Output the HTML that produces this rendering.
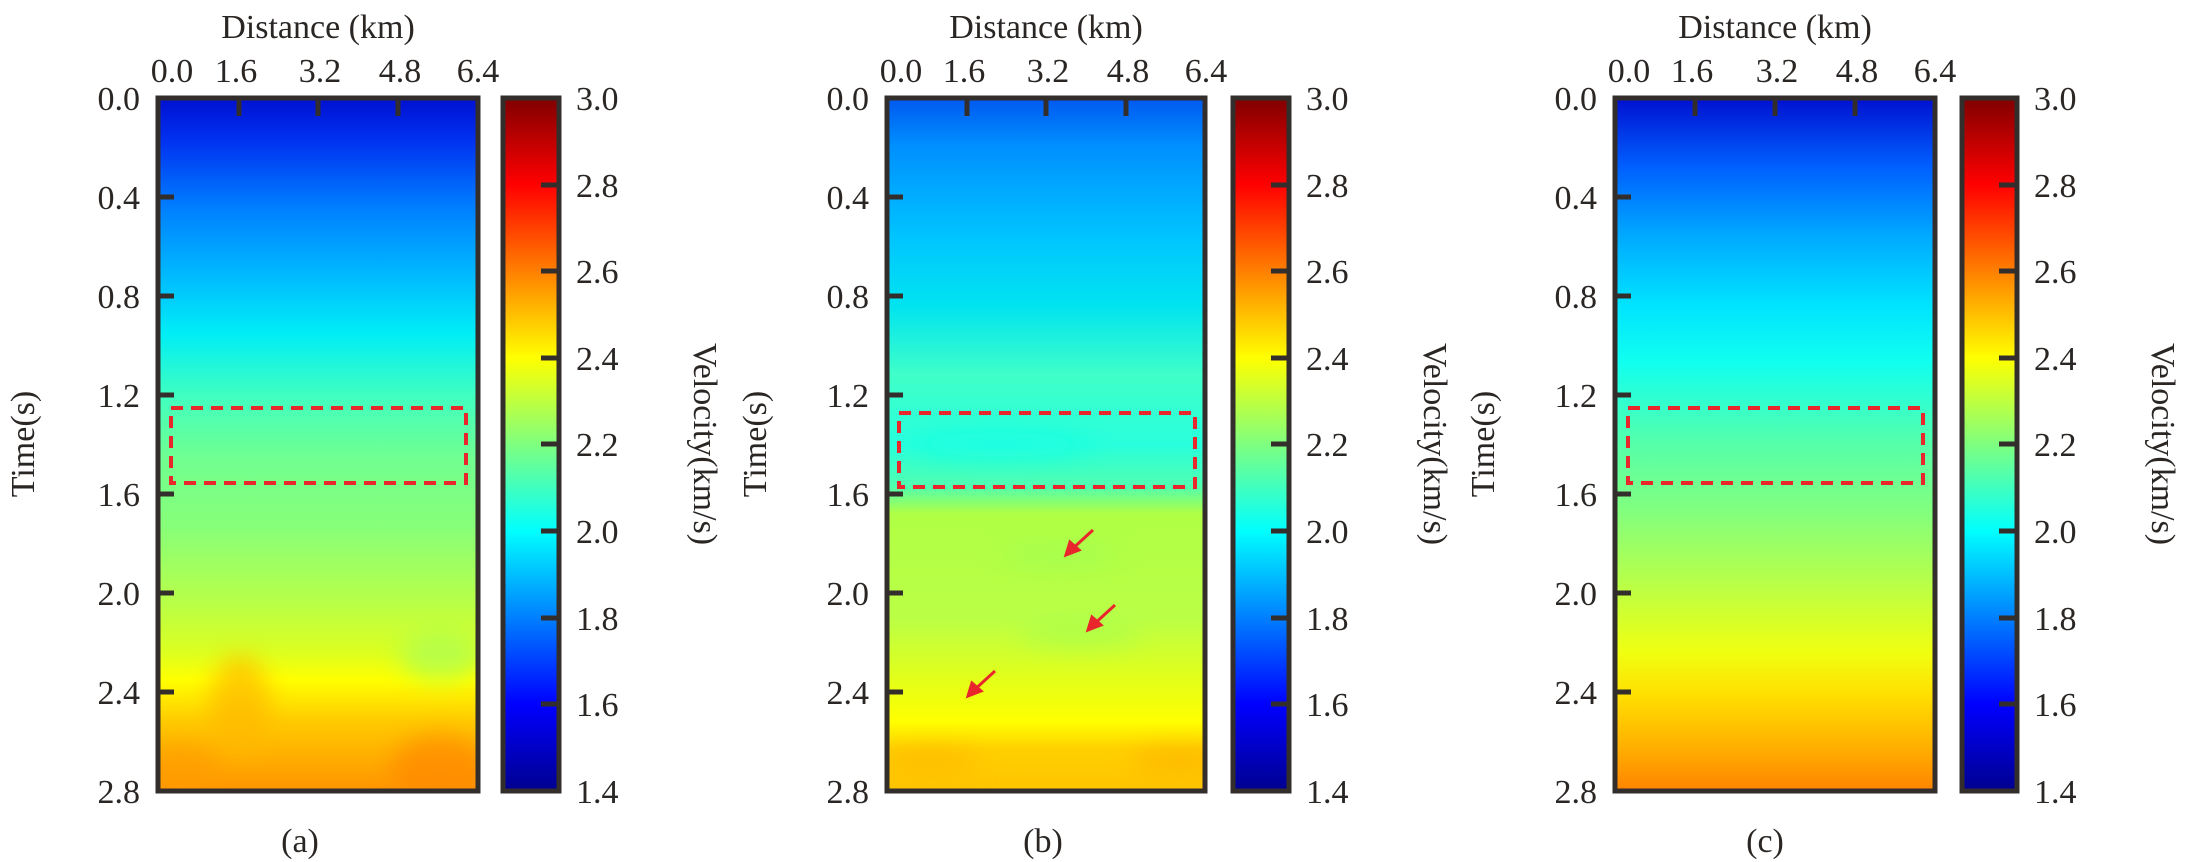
<!DOCTYPE html>
<html><head><meta charset="utf-8"><style>
html,body{margin:0;padding:0;background:#fff;}
svg{display:block;}
text{font-family:"Liberation Serif",serif;fill:#2a2624;}
</style></head><body>
<svg width="2188" height="862" viewBox="0 0 2188 862" xmlns="http://www.w3.org/2000/svg">
<defs>
<linearGradient id="jet" x1="0" y1="1" x2="0" y2="0">
<stop offset="0" stop-color="#00008f"/><stop offset="0.125" stop-color="#0000ff"/>
<stop offset="0.375" stop-color="#00ffff"/><stop offset="0.5" stop-color="#7fff7f"/>
<stop offset="0.625" stop-color="#ffff00"/><stop offset="0.875" stop-color="#ff0000"/>
<stop offset="1" stop-color="#800000"/></linearGradient>
<linearGradient id="ga" x1="0" y1="0" x2="0" y2="1">
<stop offset="0" stop-color="#0010d0"/><stop offset="0.06" stop-color="#0030f0"/>
<stop offset="0.16" stop-color="#0080ff"/><stop offset="0.26" stop-color="#00bcff"/>
<stop offset="0.34" stop-color="#00eef6"/><stop offset="0.43" stop-color="#40ffc0"/>
<stop offset="0.52" stop-color="#70ff90"/><stop offset="0.62" stop-color="#88ff78"/>
<stop offset="0.72" stop-color="#b4ff4c"/><stop offset="0.80" stop-color="#dcff20"/>
<stop offset="0.84" stop-color="#ffff00"/><stop offset="0.9" stop-color="#ffca00"/>
<stop offset="1" stop-color="#ff9400"/></linearGradient>
<linearGradient id="gb" x1="0" y1="0" x2="0" y2="1">
<stop offset="0" stop-color="#0058f0"/><stop offset="0.07" stop-color="#0090ff"/>
<stop offset="0.2" stop-color="#00c4ff"/><stop offset="0.3" stop-color="#00e4f0"/>
<stop offset="0.4" stop-color="#40ffc8"/><stop offset="0.5" stop-color="#28ffdc"/>
<stop offset="0.56" stop-color="#50ffb0"/><stop offset="0.6" stop-color="#b0ff44"/>
<stop offset="0.75" stop-color="#baff46"/><stop offset="0.85" stop-color="#e8ff14"/>
<stop offset="0.9" stop-color="#ffff00"/><stop offset="0.94" stop-color="#ffd000"/>
<stop offset="1" stop-color="#ffc400"/></linearGradient>
<linearGradient id="gc" x1="0" y1="0" x2="0" y2="1">
<stop offset="0" stop-color="#0010d0"/><stop offset="0.1" stop-color="#0060ff"/>
<stop offset="0.2" stop-color="#00aaff"/><stop offset="0.3" stop-color="#00e4ff"/>
<stop offset="0.38" stop-color="#10fff0"/><stop offset="0.5" stop-color="#56ffaa"/>
<stop offset="0.6" stop-color="#84ff7c"/><stop offset="0.7" stop-color="#b8ff48"/>
<stop offset="0.8" stop-color="#f0ff10"/><stop offset="0.86" stop-color="#ffe000"/>
<stop offset="0.93" stop-color="#ffb400"/><stop offset="1" stop-color="#ff8400"/></linearGradient>
<filter id="bl"><feGaussianBlur stdDeviation="12"/></filter>
<clipPath id="ca"><rect x="158" y="98" width="320" height="693"/></clipPath>
<clipPath id="cb"><rect x="887" y="98" width="318" height="693"/></clipPath>
</defs>

<rect x="158" y="98" width="320" height="693" fill="url(#ga)"/>
<g clip-path="url(#ca)" filter="url(#bl)" opacity="0.7">
<ellipse cx="240" cy="705" rx="30" ry="50" fill="#ffb800"/>
<ellipse cx="440" cy="770" rx="50" ry="35" fill="#ff8800"/>
<ellipse cx="440" cy="655" rx="40" ry="25" fill="#a8ff58"/>
<ellipse cx="180" cy="770" rx="40" ry="25" fill="#ff9c00"/>
</g>
<rect x="158" y="98" width="320" height="693" fill="none" stroke="#332e2c" stroke-width="5"/>
<rect x="171" y="408" width="295" height="75" fill="none" stroke="#e8262c" stroke-width="4" stroke-dasharray="12,8"/>

<rect x="887" y="98" width="318" height="693" fill="url(#gb)"/>
<g clip-path="url(#cb)" filter="url(#bl)" opacity="0.6">
<ellipse cx="1000" cy="445" rx="90" ry="12" fill="#10ffe8"/>
<ellipse cx="1060" cy="555" rx="60" ry="10" fill="#98ff58"/>
<ellipse cx="1080" cy="635" rx="60" ry="10" fill="#98ff58"/>
<ellipse cx="930" cy="760" rx="50" ry="12" fill="#ffb400"/>
<ellipse cx="1180" cy="760" rx="50" ry="12" fill="#ffac00"/>
</g>
<rect x="887" y="98" width="318" height="693" fill="none" stroke="#332e2c" stroke-width="5"/>
<rect x="899" y="413" width="296" height="74" fill="none" stroke="#e8262c" stroke-width="4" stroke-dasharray="12,8"/>
<g stroke="#e8262c" stroke-width="3" fill="#e8262c">
<line x1="1093" y1="530" x2="1070" y2="551"/><polygon points="1066,555 1070,542 1079,550"/>
<line x1="1115" y1="605" x2="1092" y2="626"/><polygon points="1088,630 1092,617 1101,625"/>
<line x1="995" y1="671" x2="972" y2="692"/><polygon points="968,696 972,683 981,691"/>
</g>

<rect x="1615" y="98" width="320" height="693" fill="url(#gc)"/>
<rect x="1615" y="98" width="320" height="693" fill="none" stroke="#332e2c" stroke-width="5"/>
<rect x="1628" y="408" width="295" height="75" fill="none" stroke="#e8262c" stroke-width="4" stroke-dasharray="12,8"/>

<g stroke="#332e2c" stroke-width="5">
<rect x="503" y="98" width="56" height="693" fill="url(#jet)"/>
<rect x="1233" y="98" width="56" height="693" fill="url(#jet)"/>
<rect x="1962" y="98" width="55" height="693" fill="url(#jet)"/>
</g>

<g stroke="#332e2c" stroke-width="5">
<path d="M239 98v18M318 98v18M398 98v18"/>
<path d="M158 197h16M158 296h16M158 395h16M158 494h16M158 593h16M158 692h16"/>
<path d="M967 98v18M1046 98v18M1126 98v18"/>
<path d="M887 197h16M887 296h16M887 395h16M887 494h16M887 593h16M887 692h16"/>
<path d="M1695 98v18M1775 98v18M1855 98v18"/>
<path d="M1615 197h16M1615 296h16M1615 395h16M1615 494h16M1615 593h16M1615 692h16"/>
<path d="M559 185h-18M559 271h-18M559 358h-18M559 444h-18M559 531h-18M559 618h-18M559 704h-18"/>
<path d="M1289 185h-18M1289 271h-18M1289 358h-18M1289 444h-18M1289 531h-18M1289 618h-18M1289 704h-18"/>
<path d="M2017 185h-18M2017 271h-18M2017 358h-18M2017 444h-18M2017 531h-18M2017 618h-18M2017 704h-18"/>
</g>

<g font-size="34">
<text x="318" y="38" text-anchor="middle">Distance (km)</text>
<g text-anchor="middle"><text x="172" y="82">0.0</text><text x="236" y="82">1.6</text><text x="320" y="82">3.2</text><text x="400" y="82">4.8</text><text x="478" y="82">6.4</text></g>
<g text-anchor="end"><text x="140" y="110">0.0</text><text x="140" y="209">0.4</text><text x="140" y="308">0.8</text><text x="140" y="407">1.2</text><text x="140" y="506">1.6</text><text x="140" y="605">2.0</text><text x="140" y="704">2.4</text><text x="140" y="803">2.8</text></g>
<g><text x="576" y="110">3.0</text><text x="576" y="197">2.8</text><text x="576" y="283">2.6</text><text x="576" y="370">2.4</text><text x="576" y="456">2.2</text><text x="576" y="543">2.0</text><text x="576" y="630">1.8</text><text x="576" y="716">1.6</text><text x="576" y="803">1.4</text></g>
<text transform="translate(34,444) rotate(-90)" text-anchor="middle">Time(s)</text>
<text transform="translate(694,444) rotate(90)" text-anchor="middle">Velocity(km/s)</text>
<text x="300" y="852" text-anchor="middle">(a)</text>

<text x="1046" y="38" text-anchor="middle">Distance (km)</text>
<g text-anchor="middle"><text x="901" y="82">0.0</text><text x="964" y="82">1.6</text><text x="1048" y="82">3.2</text><text x="1128" y="82">4.8</text><text x="1206" y="82">6.4</text></g>
<g text-anchor="end"><text x="869" y="110">0.0</text><text x="869" y="209">0.4</text><text x="869" y="308">0.8</text><text x="869" y="407">1.2</text><text x="869" y="506">1.6</text><text x="869" y="605">2.0</text><text x="869" y="704">2.4</text><text x="869" y="803">2.8</text></g>
<g><text x="1306" y="110">3.0</text><text x="1306" y="197">2.8</text><text x="1306" y="283">2.6</text><text x="1306" y="370">2.4</text><text x="1306" y="456">2.2</text><text x="1306" y="543">2.0</text><text x="1306" y="630">1.8</text><text x="1306" y="716">1.6</text><text x="1306" y="803">1.4</text></g>
<text transform="translate(766,444) rotate(-90)" text-anchor="middle">Time(s)</text>
<text transform="translate(1424,444) rotate(90)" text-anchor="middle">Velocity(km/s)</text>
<text x="1043" y="852" text-anchor="middle">(b)</text>

<text x="1775" y="38" text-anchor="middle">Distance (km)</text>
<g text-anchor="middle"><text x="1629" y="82">0.0</text><text x="1692" y="82">1.6</text><text x="1777" y="82">3.2</text><text x="1857" y="82">4.8</text><text x="1935" y="82">6.4</text></g>
<g text-anchor="end"><text x="1597" y="110">0.0</text><text x="1597" y="209">0.4</text><text x="1597" y="308">0.8</text><text x="1597" y="407">1.2</text><text x="1597" y="506">1.6</text><text x="1597" y="605">2.0</text><text x="1597" y="704">2.4</text><text x="1597" y="803">2.8</text></g>
<g><text x="2034" y="110">3.0</text><text x="2034" y="197">2.8</text><text x="2034" y="283">2.6</text><text x="2034" y="370">2.4</text><text x="2034" y="456">2.2</text><text x="2034" y="543">2.0</text><text x="2034" y="630">1.8</text><text x="2034" y="716">1.6</text><text x="2034" y="803">1.4</text></g>
<text transform="translate(1494,444) rotate(-90)" text-anchor="middle">Time(s)</text>
<text transform="translate(2152,444) rotate(90)" text-anchor="middle">Velocity(km/s)</text>
<text x="1765" y="852" text-anchor="middle">(c)</text>
</g>
</svg>
</body></html>
